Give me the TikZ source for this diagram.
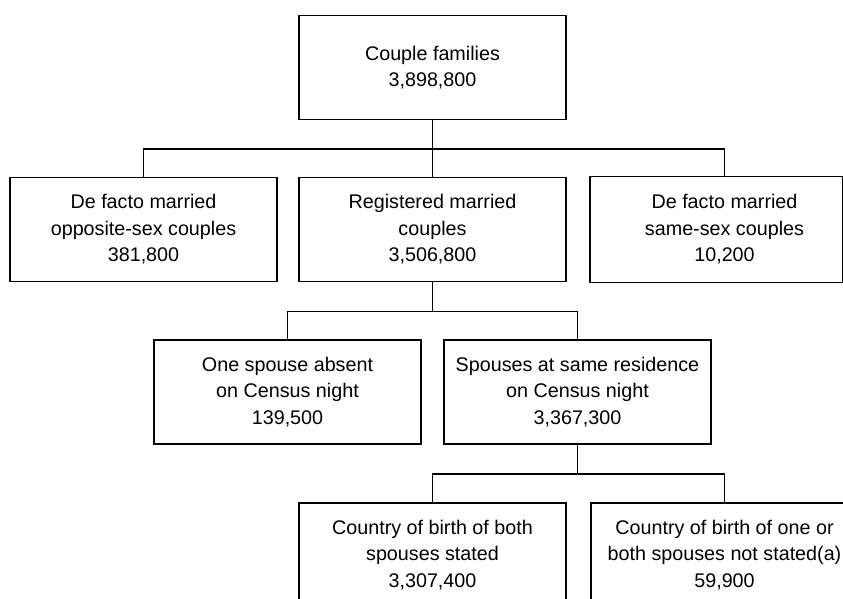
\documentclass[tikz,border=0pt]{standalone}
\usepackage{fontspec}
\setmainfont{Liberation Sans}
\usepackage{tikz}

\begin{document}
\begin{tikzpicture}[x = 0.75pt, y = -0.75pt,
  box/.style = {draw, line width = 1.4pt, minimum width = 200pt, minimum height = 78pt,
    inner sep = 2pt, align = center, font = \fontsize{14.8}{19.9}\selectfont},
  link/.style = {line width = 1.4pt}]
%\draw [help lines] (0, 0) grid (843, 599);
\useasboundingbox (0, 0) rectangle (843, 599);
\clip (0, 0) rectangle (843, 599);
% level 1
\node [box] (fam) at (432.5, 67.5) {Couple families\\3,898,800};
% level 2
\node [box] (deo) at (143.5, 229.5) {De facto married\\opposite-sex couples\\381,800};
\node [box] (reg) at (432.5, 229.5) {Registered married\\couples\\3,506,800};
\node [box, draw = none] (dss) at (724.5, 229.5) {De facto married\\same-sex couples\\10,200};
\draw [link] (dss.north west) rectangle ([xshift = -12pt]dss.south east);
% level 3
\node [box] (abs) at (287.5, 392) {One spouse absent\\on Census night\\139,500};
\node [box] (same) at (577.5, 392) {Spouses at same residence\\on Census night\\3,367,300};
% level 4
\node [box] (both) at (432.5, 555) {Country of birth of both\\spouses stated\\3,307,400};
\node [box] (notst) at (724.5, 555) {Country of birth of one or\\both spouses not stated(a)\\59,900};
% connectors
\draw [link] (fam.south) -- ++(0, 29) -| (deo.north);
\draw [link] (fam.south) -- ++(0, 29) -| (dss.north);
\draw [link] (fam.south) -- (reg.north);
\draw [link] (reg.south) -- ++(0, 29) -| (abs.north);
\draw [link] (reg.south) -- ++(0, 29) -| (same.north);
\draw [link] (same.south) -- ++(0, 29) -| (both.north);
\draw [link] (same.south) -- ++(0, 29) -| (notst.north);
\end{tikzpicture}
\end{document}
